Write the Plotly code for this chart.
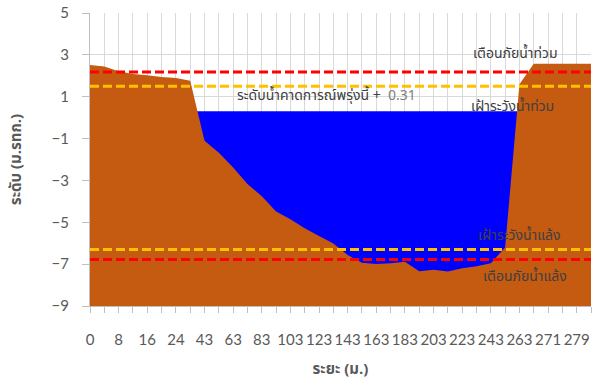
import plotly.graph_objects as go

# Cross-section survey: distance from left bank (m) and bed level (m MSL)
distance_m = [0, 4, 8, 12, 16, 20, 24, 33, 43, 53, 63, 73, 83, 93, 103, 113, 123, 133,
              143, 153, 163, 173, 183, 193, 203, 213, 223, 233, 243, 253, 263, 267, 271,
              275, 279, 283]
ground_level = [2.52, 2.44, 2.22, 2.08, 2.02, 1.94, 1.90, 1.76, -1.11, -1.68, -2.38, -3.17,
                -3.75, -4.48, -4.86, -5.28, -5.65, -6.01, -6.56, -6.93, -6.99, -6.96, -6.88,
                -7.34, -7.27, -7.35, -7.20, -7.10, -6.96, -6.20, 1.60, 2.57, 2.57, 2.57,
                2.57, 2.57]

# Forecast water level for tomorrow (m MSL)
water_level = 0.31

# Warning thresholds (m MSL)
flood_alert = 2.18
flood_watch = 1.50
drought_watch = -6.30
drought_alert = -6.78

y_min, y_max = -9, 5

n = len(distance_m)
xs = list(range(n))
tick_text = [str(d) if i % 2 == 0 else "" for i, d in enumerate(distance_m)]

GROUND = "#C55A11"
WATER = "#0000FF"
RED = "#FF0000"
AMBER = "#FFC000"
TEXT = "#404040"
AXIS_TEXT = "#595959"
THAI = "Tahoma, 'Leelawadee UI', 'Noto Sans Thai', 'Noto Sans', sans-serif"
NUM = "Lato, Calibri, 'Open Sans', sans-serif"

fig = go.Figure()

# Water body: filled from axis floor up to the forecast level, sits behind the bed
fig.add_trace(go.Scatter(x=xs, y=[y_min] * n, mode="lines", line=dict(width=0),
                         showlegend=False, hoverinfo="skip"))
fig.add_trace(go.Scatter(x=xs, y=[water_level] * n, mode="lines", line=dict(width=0),
                         fill="tonexty", fillcolor=WATER, showlegend=False,
                         hoverinfo="skip"))

# River bed / banks
fig.add_trace(go.Scatter(x=xs, y=[y_min] * n, mode="lines", line=dict(width=0),
                         showlegend=False, hoverinfo="skip"))
fig.add_trace(go.Scatter(x=xs, y=ground_level, mode="lines", line=dict(width=0),
                         fill="tonexty", fillcolor=GROUND, showlegend=False,
                         hoverinfo="skip"))

# Threshold lines
for level, colour in [(flood_alert, RED), (flood_watch, AMBER),
                      (drought_watch, AMBER), (drought_alert, RED)]:
    fig.add_trace(go.Scatter(x=xs, y=[level] * n, mode="lines",
                             line=dict(color=colour, width=3, dash="9px,4px"),
                             showlegend=False, hoverinfo="skip"))

annotations = [
    dict(x=29.7, y=3.06, text="เตือนภัยน้ำท่วม", xanchor="center"),
    dict(x=29.55, y=0.51, text="เฝ้าระวังน้ำท่วม", xanchor="center"),
    dict(x=30.0, y=-5.64, text="เฝ้าระวังน้ำแล้ง", xanchor="center"),
    dict(x=30.4, y=-7.58, text="เตือนภัยน้ำแล้ง", xanchor="center"),
    dict(x=10.1, y=1.07, xanchor="left",
         text="ระดับน้ำคาดการณ์พรุ่งนี้ + <span style='color:#7F7F7F'> %.2f</span>" % water_level),
]
for a in annotations:
    fig.add_annotation(x=a["x"], y=a["y"], text=a["text"], xanchor=a["xanchor"],
                       yanchor="middle", showarrow=False,
                       font=dict(family=THAI, size=14, color=TEXT))

fig.update_xaxes(
    range=[0, n - 1], tickmode="array", tickvals=xs, ticktext=tick_text,
    showgrid=True, gridcolor="#D9D9D9", gridwidth=1,
    showline=True, linecolor="#BFBFBF", linewidth=1,
    ticks="outside", ticklen=6, tickcolor="#BFBFBF",
    ticklabelstandoff=14,
    tickfont=dict(family=NUM, size=15, color=AXIS_TEXT),
    title=dict(text="<b>ระยะ (ม.)</b>", font=dict(family=THAI, size=15, color=AXIS_TEXT),
               standoff=16),
    zeroline=False,
)
fig.update_yaxes(
    range=[y_min, y_max], tickmode="linear", tick0=y_min, dtick=2,
    showgrid=True, gridcolor="#D9D9D9", gridwidth=1,
    showline=True, linecolor="#BFBFBF", linewidth=1,
    ticks="outside", ticklen=7, tickcolor="#BFBFBF",
    ticklabelstandoff=10,
    tickfont=dict(family=NUM, size=15, color=AXIS_TEXT),
    title=dict(text="<b>ระดับ (ม.รทก.)</b>", font=dict(family=THAI, size=15, color=AXIS_TEXT),
               standoff=26),
    zeroline=False,
)

fig.update_layout(
    width=594, height=381,
    margin=dict(l=90, r=3, t=11, b=75),
    plot_bgcolor="white", paper_bgcolor="white",
    showlegend=False,
)

fig.write_html("out.html")
